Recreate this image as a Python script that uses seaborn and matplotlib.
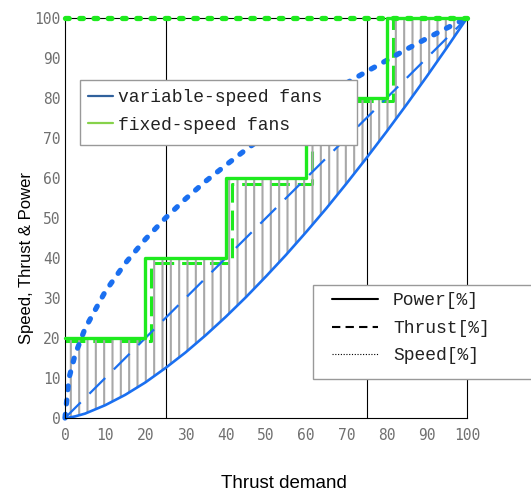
import matplotlib
matplotlib.use("Agg")
import matplotlib.pyplot as plt
from matplotlib.lines import Line2D
from matplotlib.patches import Rectangle
from matplotlib.ticker import MultipleLocator
import seaborn as sns

# thrust demand grid [%] and variable-speed fan curves
demand = [0, 1, 2.5, 5, 10, 15, 20, 25, 30, 35, 40, 45, 50, 55, 60, 65, 70, 75, 80, 85, 90, 95, 100]
var_power = [0, 0.1, 0.4, 1.1, 3.2, 5.8, 8.9, 12.5, 16.4, 20.7, 25.3, 30.2, 35.4, 40.8,
             46.5, 52.4, 58.6, 65.0, 71.6, 78.4, 85.4, 92.6, 100]
var_thrust = [0, 1, 2.5, 5, 10, 15, 20, 25, 30, 35, 40, 45, 50, 55, 60, 65, 70, 75, 80, 85, 90, 95, 100]
var_speed = [0, 10, 15.8, 22.4, 31.6, 38.7, 44.7, 50, 54.8, 59.2, 63.2, 67.1, 70.7, 74.2,
             77.5, 80.6, 83.7, 86.6, 89.4, 92.2, 94.9, 97.5, 100]

# fixed-speed fans: staged on/off, so power and thrust are steps
fixed_steps = [0, 20, 40, 60, 80, 100]
fixed_power = [20, 40, 60, 80, 100, 100]
thrust_steps = [0, 21.5, 41.5, 61.5, 81.5, 100]
fixed_thrust = [19.3, 38.8, 58.5, 79.2, 100, 100]
speed_x = [0, 100]
fixed_speed = [100, 100]

ticks = [0, 10, 20, 30, 40, 50, 60, 70, 80, 90, 100]

BLUE = "#1a6ff0"
GREEN = "#1eea1e"

sns.set_style("white")
plt.rcParams["hatch.linewidth"] = 1.5

fig = plt.figure(figsize=(5.31, 4.95), dpi=100)
ax = fig.add_axes([65 / 531, 1 - 418 / 495, 402 / 531, 400 / 495])

# hatched area between the fixed-speed power steps and the variable-speed power curve
poly_x, poly_y = [], []
for i in range(len(fixed_steps) - 1):
    poly_x += [fixed_steps[i], fixed_steps[i + 1]]
    poly_y += [fixed_power[i], fixed_power[i]]
poly_x += demand[::-1]
poly_y += var_power[::-1]
ax.fill(poly_x, poly_y, facecolor="none", edgecolor="#a8a8a8", linewidth=0, hatch="||", zorder=1.2)

# fixed-speed thrust (under the hatch)
sns.lineplot(x=thrust_steps, y=fixed_thrust, ax=ax, color=GREEN, lw=2.2, linestyle=(0, (6.5, 2.6)),
             drawstyle="steps-post", estimator=None, sort=False, zorder=1.1)

# variable-speed fans
sns.lineplot(x=demand, y=var_power, ax=ax, color=BLUE, lw=1.9, estimator=None, sort=False,
             zorder=2, clip_on=False)
sns.lineplot(x=demand, y=var_thrust, ax=ax, color=BLUE, lw=1.6, linestyle=(0, (10, 5.5)),
             estimator=None, sort=False, zorder=2, clip_on=False)
sns.lineplot(x=demand, y=var_speed, ax=ax, color=BLUE, lw=3.8, linestyle=(0, (0.7, 2.0)),
             dash_capstyle="round", estimator=None, sort=False, zorder=2, clip_on=False)

# fixed-speed power and speed
sns.lineplot(x=fixed_steps, y=fixed_power, ax=ax, color=GREEN, lw=2.4, drawstyle="steps-post",
             estimator=None, sort=False, zorder=2.6, clip_on=False)
sns.lineplot(x=speed_x, y=fixed_speed, ax=ax, color=GREEN, lw=3.8, linestyle=(0, (0.7, 2.0)),
             dash_capstyle="round", estimator=None, sort=False, zorder=3, clip_on=False)

ax.set_xlim(0, 100)
ax.set_ylim(0, 100)
ax.set_xticks(ticks)
ax.set_yticks(ticks)
ax.xaxis.set_minor_locator(MultipleLocator(25))
ax.grid(False)
ax.grid(which="minor", axis="x", color="black", lw=0.8)
ax.tick_params(which="minor", length=0)
ax.tick_params(axis="x", which="major", direction="in", length=4.5, width=0.8, color="black", pad=7)
ax.tick_params(axis="y", which="major", direction="out", length=2.2, width=0.8, color="black", pad=1)
for lab in ax.get_xticklabels() + ax.get_yticklabels():
    lab.set_family("DejaVu Sans Mono")
    lab.set_fontsize(10.5)
    lab.set_color("#707070")
for sp in ax.spines.values():
    sp.set_color("black")
    sp.set_linewidth(0.8)

ax.set_xlabel("Thrust demand", family="Liberation Sans", fontsize=13.5, color="black")
ax.set_ylabel("Speed, Thrust & Power", family="Liberation Sans", fontsize=12, color="black")
ax.xaxis.set_label_coords(0.5435, -0.1425)
ax.yaxis.set_label_coords(-0.077, 0.401)

# legend frames drawn as plain boxes so their size matches the original
leg_font = {"family": "Liberation Mono", "size": 13}
ax.add_patch(Rectangle((0.0373, 0.6825), 0.689, 0.1625, transform=ax.transAxes,
                       facecolor="white", edgecolor="#999999", lw=1.0, zorder=5, clip_on=False))
ax.add_patch(Rectangle((0.617, 0.0975), 0.6, 0.235, transform=ax.transAxes,
                       facecolor="white", edgecolor="#999999", lw=1.0, zorder=5, clip_on=False))

fan_handles = [Line2D([], [], color="#30619c", lw=1.6), Line2D([], [], color="#86d24a", lw=1.6)]
leg1 = ax.legend(fan_handles, ["variable-speed fans", "fixed-speed fans"], loc="upper left",
                 bbox_to_anchor=(0.0572, 0.822), borderaxespad=0, borderpad=0, frameon=False,
                 prop=leg_font, handlelength=1.39, handletextpad=0.28, labelspacing=0.58)
leg1.set_zorder(6)
ax.add_artist(leg1)

style_handles = [Line2D([], [], color="black", lw=1.5),
                 Line2D([], [], color="black", lw=1.5, linestyle=(0, (4, 2.5))),
                 Line2D([], [], color="black", lw=0.8, linestyle=(0, (1, 1.5)))]
leg2 = ax.legend(style_handles, ["Power[%]", "Thrust[%]", "Speed[%]"], loc="upper left",
                 bbox_to_anchor=(0.664, 0.314), borderaxespad=0, borderpad=0, frameon=False,
                 prop=leg_font, handlelength=2.55, handletextpad=0.83, labelspacing=0.58)
leg2.set_zorder(6)
for t in leg1.get_texts() + leg2.get_texts():
    t.set_color("#222222")

fig.savefig("out.png", dpi=100)
